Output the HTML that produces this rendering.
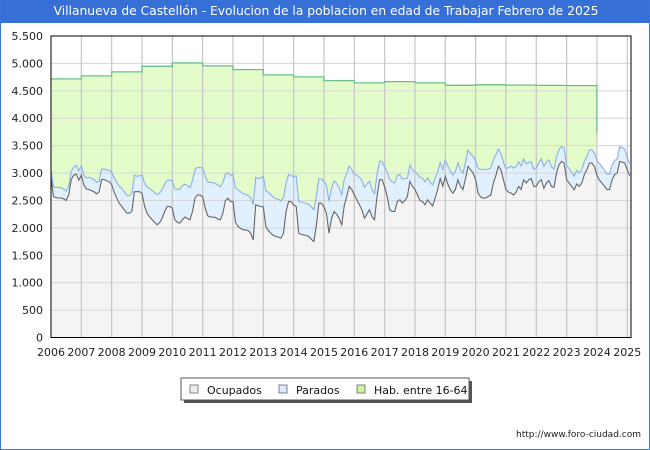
<!DOCTYPE html>
<html><head><meta charset="utf-8">
<style>
body{margin:0;background:#fff;}
#wrap{position:relative;width:650px;height:450px;box-sizing:border-box;border:1px solid #3a72d8;border-top:none;overflow:hidden;font-family:"DejaVu Sans","Liberation Sans",sans-serif;}
#title{position:absolute;left:0;top:0;width:650px;height:23px;background:#3670d6;color:#fff;font-size:12.3px;line-height:23px;text-align:center;}
svg{position:absolute;left:0;top:0;}
</style></head><body>
<div id="wrap">
<div id="title">Villanueva de Castellón - Evolucion de la poblacion en edad de Trabajar Febrero de 2025</div>
<svg id="chart" width="650" height="450"></svg>
</div>
<script>
const years = [2006,2007,2008,2009,2010,2011,2012,2013,2014,2015,2016,2017,2018,2019,2020,2021,2022,2023,2024,2025];
const yTicks = [0,500,1000,1500,2000,2500,3000,3500,4000,4500,5000,5500];
const yTickLabels = ["0","500","1.000","1.500","2.000","2.500","3.000","3.500","4.000","4.500","5.000","5.500"];
const habYears = [2006,2007,2008,2009,2010,2011,2012,2013,2014,2015,2016,2017,2018,2019,2020,2021,2022,2023,2024];
const habValues = [4717,4772,4845,4948,5009,4954,4887,4790,4754,4686,4644,4668,4644,4600,4610,4605,4598,4595,3730];
const ocupados = [
2908,2573,2550,2545,2545,2530,2500,2600,2880,2960,2980,2870,
2960,2780,2710,2700,2680,2660,2620,2650,2880,2880,2860,2840,
2790,2650,2542,2450,2390,2330,2270,2270,2300,2660,2660,2660,
2630,2400,2270,2200,2150,2100,2055,2100,2177,2300,2390,2390,
2360,2150,2100,2086,2150,2196,2170,2147,2300,2550,2603,2600,
2570,2360,2220,2200,2196,2190,2160,2147,2269,2500,2542,2480,
2481,2100,2024,1990,1964,1960,1951,1900,1781,2420,2400,2390,
2380,2024,1950,1903,1860,1842,1830,1812,1903,2300,2481,2480,
2420,2390,1903,1880,1872,1860,1842,1790,1751,2055,2451,2450,
2380,2260,1903,2177,2299,2250,2177,2055,2400,2573,2756,2700,
2600,2512,2420,2330,2177,2250,2330,2200,2147,2573,2878,2878,
2750,2573,2330,2300,2299,2480,2512,2451,2500,2573,2847,2760,
2700,2600,2500,2480,2420,2512,2450,2400,2550,2700,2900,2760,
2938,2800,2695,2634,2700,2878,2756,2700,2900,3121,3060,3000,
2878,2634,2560,2543,2543,2573,2600,2817,2950,3121,3060,2878,
2700,2650,2634,2600,2650,2756,2700,2878,2817,2878,2900,2756,
2760,2840,2878,2720,2817,2860,2756,2740,3000,3151,3212,3182,
2878,2817,2756,2695,2800,2756,2817,2969,3060,3182,3182,3120,
2960,2870,2817,2756,2700,2700,2878,2969,3000,3212,3200,3182,
3060,2950];
const parados = [
160,180,190,190,190,180,170,160,150,150,160,170,
170,180,200,220,230,220,210,200,190,190,200,210,
220,260,290,310,330,330,320,320,330,300,280,290,
330,420,480,520,530,540,550,540,520,500,480,480,
500,560,600,620,620,600,600,590,560,520,500,500,
520,580,620,630,630,620,620,600,560,480,460,470,
500,620,670,670,660,650,640,650,640,500,500,520,
560,650,700,700,700,690,690,680,650,520,490,480,
510,560,580,590,590,580,590,590,580,520,450,440,
470,520,580,560,560,560,560,540,480,420,370,360,
380,450,500,540,560,550,520,500,480,400,340,330,
360,450,550,540,520,480,460,440,400,330,300,300,
320,380,420,430,420,400,380,380,360,320,290,300,
300,330,340,330,320,310,300,300,300,300,290,300,
350,450,500,530,520,500,490,420,380,320,300,320,
380,450,490,490,470,450,430,380,350,320,300,310,
330,350,380,400,390,380,360,330,300,275,270,270,
260,270,260,250,250,250,240,240,240,240,240,240,
280,300,300,290,280,280,270,260,260,270,260,260,
220,220];

const NS='http://www.w3.org/2000/svg';
const svg=document.getElementById('chart');
const X0=50,X1=630,Y0=337.5,YT=36;
const FF='DejaVu Sans, Liberation Sans, sans-serif';
function xs(t){return X0+(t-2006)*30.33;}
function ys(v){return Y0-v*(Y0-YT)/5500;}
function mk(tag,attrs,parent){const e=document.createElementNS(NS,tag);for(const k in attrs)e.setAttribute(k,attrs[k]);(parent||svg).appendChild(e);return e;}

const bg=mk('rect',{x:X0,y:YT,width:X1-X0,height:Y0-YT,fill:'#fff'});



let habPts=[];
for(let i=0;i<habYears.length-1;i++){
  habPts.push([xs(habYears[i]),ys(habValues[i])]);
  habPts.push([xs(habYears[i+1]),ys(habValues[i])]);
}
const lastI=habYears.length-1;
habPts.push([xs(habYears[lastI]),ys(habValues[lastI])]);
const habLine=habPts.map(p=>p[0].toFixed(1)+','+p[1].toFixed(1)).join(' ');
const habArea=mk('polygon',{points:habLine+' '+xs(habYears[lastI]).toFixed(1)+','+Y0+' '+X0+','+Y0,fill:'#e4fcca'});



function tOf(i){return 2006+i/12;}
const totPts=parados.map((p,i)=>xs(tOf(i)).toFixed(1)+','+ys(p+ocupados[i]).toFixed(1)).join(' ');
const ocPts=ocupados.map((v,i)=>xs(tOf(i)).toFixed(1)+','+ys(v).toFixed(1)).join(' ');
const endX=xs(tOf(ocupados.length-1)).toFixed(1);
const parArea=mk('polygon',{points:totPts+' '+endX+','+Y0+' '+X0+','+Y0,fill:'#e0f0ff'});


const ocArea=mk('polygon',{points:ocPts+' '+endX+','+Y0+' '+X0+','+Y0,fill:'#f4f4f4'});



yTicks.forEach((v,i)=>{
  const g=mk('line',{x1:X0,x2:X1,y1:ys(v),y2:ys(v),stroke:'#d6d6d6','stroke-width':1});
  
  
  const t=mk('text',{x:42,y:ys(v)+4,'text-anchor':'end','font-size':11,fill:'#222','font-family':FF});
  t.textContent=yTickLabels[i];
  
  
});
years.forEach(y=>{
  if(y>2006){
  const g=mk('line',{x1:xs(y),x2:xs(y),y1:YT,y2:Y0,stroke:'#c6c6c6','stroke-width':1.2});
  
  }
  const t=mk('text',{x:xs(y),y:356,'text-anchor':'middle','font-size':11,fill:'#222','font-family':FF});
  t.textContent=y;
  
  
});

const hl=mk('polyline',{points:habLine+' '+xs(habYears[lastI]).toFixed(1)+','+ys(habValues[lastI]).toFixed(1),fill:'none',stroke:'#6cbf8c','stroke-width':1.3});


const pl=mk('polyline',{points:totPts,fill:'none',stroke:'#8aaef0','stroke-width':1.1});


const ol=mk('polyline',{points:ocPts,fill:'none',stroke:'#666','stroke-width':1.1});



const fr=mk('rect',{x:X0,y:YT,width:X1-X0,height:Y0-YT,fill:'none',stroke:'#000','stroke-width':1});



const lg=mk('g',{});


mk('rect',{x:183,y:381,width:288,height:22,fill:'#555'},lg);
mk('rect',{x:180,y:378,width:288,height:22,fill:'#fff',stroke:'#555','stroke-width':1},lg);
const items=[['Ocupados','#eeeeee',189],['Parados','#d8ecff',278],['Hab. entre 16-64','#ccf5a0',356]];
items.forEach(it=>{
  const e=mk('g',{},lg);
  
  
  mk('rect',{x:it[2],y:385,width:8,height:8,fill:it[1],stroke:'#666','stroke-width':0.8},e);
  const t=mk('text',{x:it[2]+17,y:394,'font-size':11,fill:'#111','font-family':FF},e);
  t.textContent=it[0];
});

const ft=mk('text',{x:640,y:437,'text-anchor':'end','font-size':9,fill:'#222','font-family':FF});
ft.textContent='http://www.foro-ciudad.com';


</script>
</body></html>
